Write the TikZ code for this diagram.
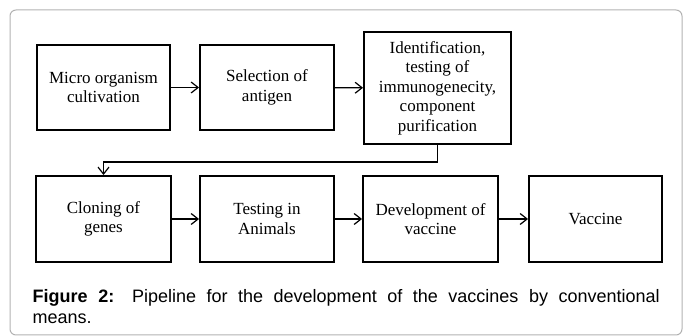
\documentclass[tikz,border=0pt]{standalone}
\usepackage{fontspec}
\setmainfont{Liberation Serif}
\newfontfamily\capfont{Liberation Sans}
\usepackage{tikz}
\usetikzlibrary{arrows.meta}
\tikzstyle{block} = [rectangle, sharp corners, draw, line width=1.9pt,
                     align=center, inner sep=2pt,
                     minimum width=134pt, minimum height=86pt,
                     font=\fontsize{17}{19.5}\selectfont]
\tikzstyle{link} = [->, line width=1.2pt]

\begin{document}
\begin{tikzpicture}[x=1pt, y=-1pt, >={Straight Barb[length=7pt,width=11pt]}]
\useasboundingbox (0,0) rectangle (683,336);
% frame
\draw[gray!60, line width=1pt, rounded corners=6pt] (10,10) rectangle (682,335);

% first row
\node[block, minimum width=133pt, minimum height=85pt] (micro) at (103.5,87.5) {Micro organism\\cultivation};
\node[block, minimum height=85pt] (select) at (267,87.5) {Selection of\\antigen};
\node[block, minimum width=147pt, minimum height=112pt] (ident) at (437.5,88) {Identification,\\testing of\\immunogenecity,\\component\\purification};

% second row
\node[block, minimum width=135pt] (clone) at (103.5,219) {Cloning of\\genes};
\node[block] (animal) at (267,219) {Testing in\\Animals};
\node[block, minimum width=135pt] (devel) at (430.5,219) {Development of\\vaccine};
\node[block, minimum width=133pt] (vaccine) at (595.5,219) {Vaccine};

\coordinate (turn) at (270,162);

\draw[link] (micro) -- (select);
\draw[link] (select) -- (ident);
\draw[link] (ident.south) |- (turn) -| (clone.north);
\draw[link] (clone) -- (animal);
\draw[link] (animal) -- (devel);
\draw[link] (devel) -- (vaccine);

% caption
\node[anchor=north west, align=left, inner sep=0pt, font=\capfont\fontsize{18}{21}\selectfont] (caption) at (32.5,289.5)
  {\makebox[627pt][s]{\textbf{Figure 2:} Pipeline for the development of the vaccines by conventional}\\means.};
\end{tikzpicture}
\end{document}
